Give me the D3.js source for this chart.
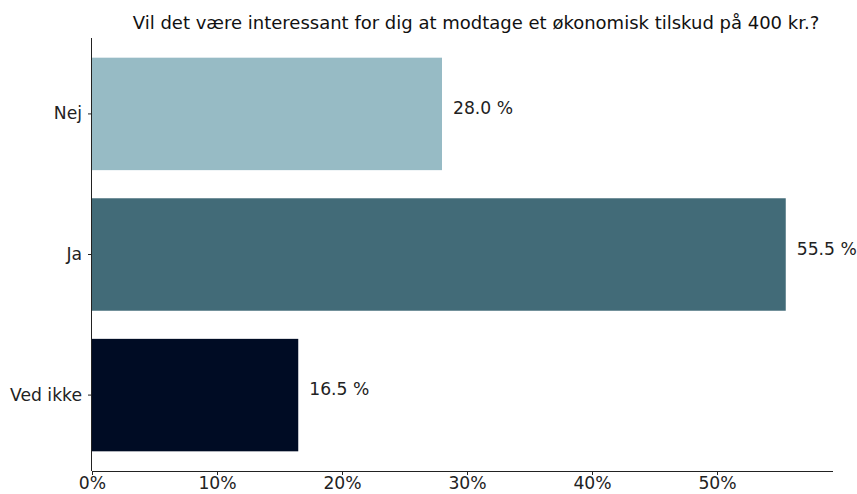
<!DOCTYPE html>
<html>
<head>
<meta charset="utf-8">
<script src="https://cdn.jsdelivr.net/npm/d3@7"></script>
<style>
html,body{margin:0;padding:0;background:#fff;}
svg{display:block;font-family:"DejaVu Sans",sans-serif;}
</style>
</head>
<body>
<svg id="chart" width="857" height="494"></svg>
<script>
const categories = ["Nej", "Ja", "Ved ikke"];
const values = [28.0, 55.5, 16.5];
const colors = ["#97bbc5", "#426b78", "#000c24"];
const xTicks = [0, 10, 20, 30, 40, 50];
const title = "Vil det være interessant for dig at modtage et økonomisk tilskud på 400 kr.?";

(function () {
const svg = d3.select("#chart");
const mLeft = 92, mRight = 833, mTop = 38, mBottom = 471;
const fs = 17.2;

const x = d3.scaleLinear().domain([0, 59.28]).range([mLeft, mRight]);
const y = d3.scaleBand().domain(categories).range([mTop, mBottom])
  .paddingInner(0.2).paddingOuter(0.14);

const data = categories.map((c, i) => ({c, v: values[i], col: colors[i]}));

svg.selectAll("rect.bar").data(data).enter().append("rect")
  .attr("class", "bar")
  .attr("x", x(0))
  .attr("y", d => y(d.c))
  .attr("width", d => x(d.v) - x(0))
  .attr("height", y.bandwidth())
  .attr("fill", d => d.col);

svg.selectAll("text.val").data(data).enter().append("text")
  .attr("class", "val")
  .attr("x", d => x(d.v) + 11)
  .attr("y", d => y(d.c) + y.bandwidth() / 2 - 6)
  .attr("dominant-baseline", "central")
  .attr("font-size", fs)
  .attr("fill", "#222")
  .text(d => d.v.toFixed(1) + " %");

const xAxis = d3.axisBottom(x).tickValues(xTicks).tickFormat(d => d + "%").tickSizeOuter(0).tickSize(4).tickPadding(2);
const gx = svg.append("g").attr("transform", `translate(0,${mBottom})`).call(xAxis);
gx.select(".domain").attr("stroke", "#222").attr("d", `M${mLeft},0.5H${mRight}`);
gx.selectAll(".tick line").attr("stroke", "#222");
gx.selectAll(".tick text").attr("font-size", fs).attr("fill", "#222").attr("font-family", "DejaVu Sans");

const yAxis = d3.axisLeft(y).tickSizeOuter(0).tickSize(4).tickPadding(6);
const gy = svg.append("g").attr("transform", `translate(${mLeft},0)`).call(yAxis);
gy.select(".domain").attr("stroke", "#222").attr("d", `M-0.5,${mTop}V${mBottom}`);
gy.selectAll(".tick line").attr("stroke", "#222");
gy.selectAll(".tick text").attr("font-size", fs).attr("fill", "#222").attr("font-family", "DejaVu Sans");

svg.append("text")
  .attr("x", 476)
  .attr("y", 22)
  .attr("text-anchor", "middle")
  .attr("dominant-baseline", "central")
  .attr("font-size", 18)
  .attr("fill", "#111")
  .text(title);
})();
</script>
</body>
</html>
